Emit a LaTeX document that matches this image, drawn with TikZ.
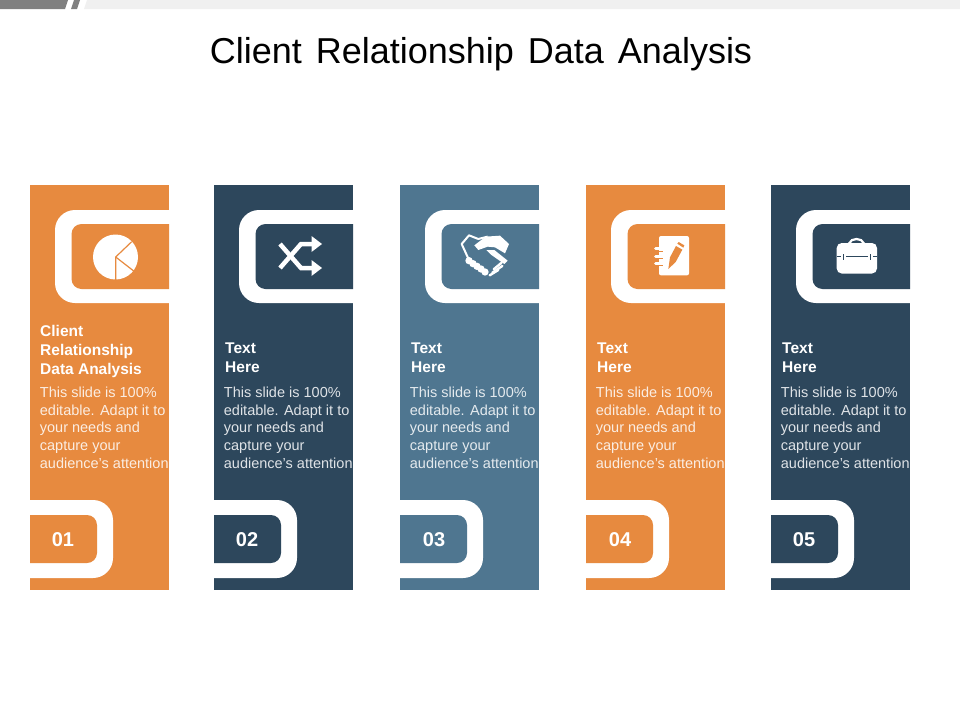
\documentclass[tikz,border=0pt]{standalone}
\usepackage{fontspec}
\setmainfont{Liberation Sans}
\definecolor{orangeP}{HTML}{E78A3F}
\definecolor{navyP}{HTML}{2D475C}
\definecolor{steelP}{HTML}{4F7690}
\definecolor{barGrey}{HTML}{808080}
\definecolor{barLight}{HTML}{F0F0F0}
\tikzset{
  titletext/.style={inner sep=0pt,font=\fontsize{36}{42}\selectfont,text=black,anchor=center},
  headtext/.style={inner sep=0pt,anchor=north west,align=left,text=white,font=\fontsize{15.5}{18.8}\selectfont\bfseries},
  bodytext/.style={inner sep=0pt,anchor=north west,align=left,font=\fontsize{14.5}{17.8}\selectfont},
  numtext/.style={inner sep=0pt,anchor=center,text=white,font=\fontsize{20}{24}\selectfont\bfseries},
  iconline/.style={white,line width=4.5pt,line join=miter},
}
\begin{document}
\begin{tikzpicture}[x=1pt,y=-1pt]
\useasboundingbox (0,0) rectangle (960,720);
\fill[white] (0,0) rectangle (960,720);
% top bar
\fill[barGrey] (0,0) -- (68,0) -- (65,9) -- (0,9) -- cycle;
\fill[barGrey] (74,0) -- (80,0) -- (77,9) -- (71,9) -- cycle;
\fill[barLight] (87,0) -- (960,0) -- (960,9) -- (84,9) -- cycle;
\node[titletext] (title) at (481,54.5) {Client\hspace{4pt} Relationship\hspace{4pt} Data\hspace{4pt} Analysis};
% panels
\foreach \i/\x/\c/\n/\nx in {1/30/orangeP/01/63,2/214/navyP/02/247,3/400/steelP/03/434,4/586/orangeP/04/620,5/771/navyP/05/804}{
  \begin{scope}[shift={(\x,0)}]
    \fill[\c] (0,185) rectangle (139,590);
    % upper frame
    \fill[white] (139,210) [rounded corners=20pt] -- (25,210) -- (25,303) [sharp corners] -- (139,303) -- cycle;
    \fill[\c] (139,224) [rounded corners=10pt] -- (41.5,224) -- (41.5,289) [sharp corners] -- (139,289) -- cycle;
    % lower frame
    \fill[white] (0,500) [rounded corners=20pt] -- (83,500) -- (83,578) [sharp corners] -- (0,578) -- cycle;
    \fill[\c] (0,515) [rounded corners=10pt] -- (67,515) -- (67,563) [sharp corners] -- (0,563) -- cycle;
    \node[numtext] (num\i) at (\nx-\x,540) {\n};
    \node[bodytext,text=white!85!\c] (body\i) at (9.7,386.5) {This slide is 100\%\\editable. Adapt it to\\your needs and\\capture your\\audience's attention};
  \end{scope}
}
% headings
\node[headtext] (head1) at (40,325.5) {Client\\Relationship\\Data Analysis};
\node[headtext] (head2) at (225,342.5) {Text\\Here};
\node[headtext] (head3) at (411,342.5) {Text\\Here};
\node[headtext] (head4) at (597,342.5) {Text\\Here};
\node[headtext] (head5) at (782,342.5) {Text\\Here};
% icon 1: pie
\fill[white] (115.5,257) circle[radius=22.5];
\draw[orangeP,line width=1.2pt] (131.7,241.7) -- (115.7,257) -- (115.7,280);
\draw[orangeP,line width=1.2pt] (115.7,257) -- (135,272);
% icon 2: shuffle
\draw[iconline] (280,244) -- (301,268) -- (313,268);
\draw[iconline] (280,268) -- (301,244) -- (313,244);
\fill[white] (311.5,236) -- (322,244) -- (311.5,252) -- cycle;
\fill[white] (311.5,260) -- (322,268) -- (311.5,276) -- cycle;
% icon 3: handshake
\begin{scope}[shift={(445,220)},x=0.3333pt,y=-0.3333pt]
  \draw[white,line width=2pt,line join=round] (72,120) -- (50,72) -- (72,46) -- (100,57) -- (128,50);
  \fill[white] (88,76) -- (122,50) -- (165,47) -- (192,72) -- (180,100) -- (150,82) -- (128,80) -- (100,90) -- cycle;
  \fill[white] (124,90) -- (148,90) -- (188,122) -- (178,132) -- (138,104) -- cycle;
  \foreach \a/\b/\c/\d in {170/128/146/148,172/138/142/158,160/150/134/166}{\draw[white,line width=2.4pt,line cap=round] (\a,\b) -- (\c,\d);}
  \foreach \a/\b in {72/122,84/131,96/139,108/147,120/156}{\fill[white] (\a,\b) circle[radius=11];}
\end{scope}
% icon 4: notebook
\begin{scope}[shift={(635,220)},x=0.3333pt,y=-0.3333pt]
  \fill[white,rounded corners=2pt] (72,48) rectangle (162,166);
  \foreach \b in {85,108,130}{\draw[orangeP,line width=1pt] (70,\b+8) -- (84,\b+8);
    \draw[white,line width=3pt,line cap=round] (62,\b) -- (80,\b);}
  \fill[orangeP] (100,147) -- (105,112) -- (123,78) -- (142,89) -- (122,126) -- cycle;
  \fill[orangeP] (127,71) -- (131,66) -- (148,76) -- (145,83) -- cycle;
\end{scope}
% icon 5: briefcase
\fill[white,rounded corners=5pt] (836.7,243) rectangle (877,273.5);
\draw[white,line width=2.2pt] (849,243.5) .. controls (851,237.5) and (862,237.5) .. (864,243.5);
\draw[navyP,line width=1.3pt] (836.7,256.5) -- (841,256.5);
\draw[navyP,line width=1.3pt] (846,256.5) -- (868,256.5);
\draw[navyP,line width=1.3pt] (873,256.5) -- (877,256.5);
\draw[navyP,line width=1.2pt] (843.5,254) -- (843.5,260);
\draw[navyP,line width=1.2pt] (870.5,254) -- (870.5,260);
\end{tikzpicture}
\end{document}
